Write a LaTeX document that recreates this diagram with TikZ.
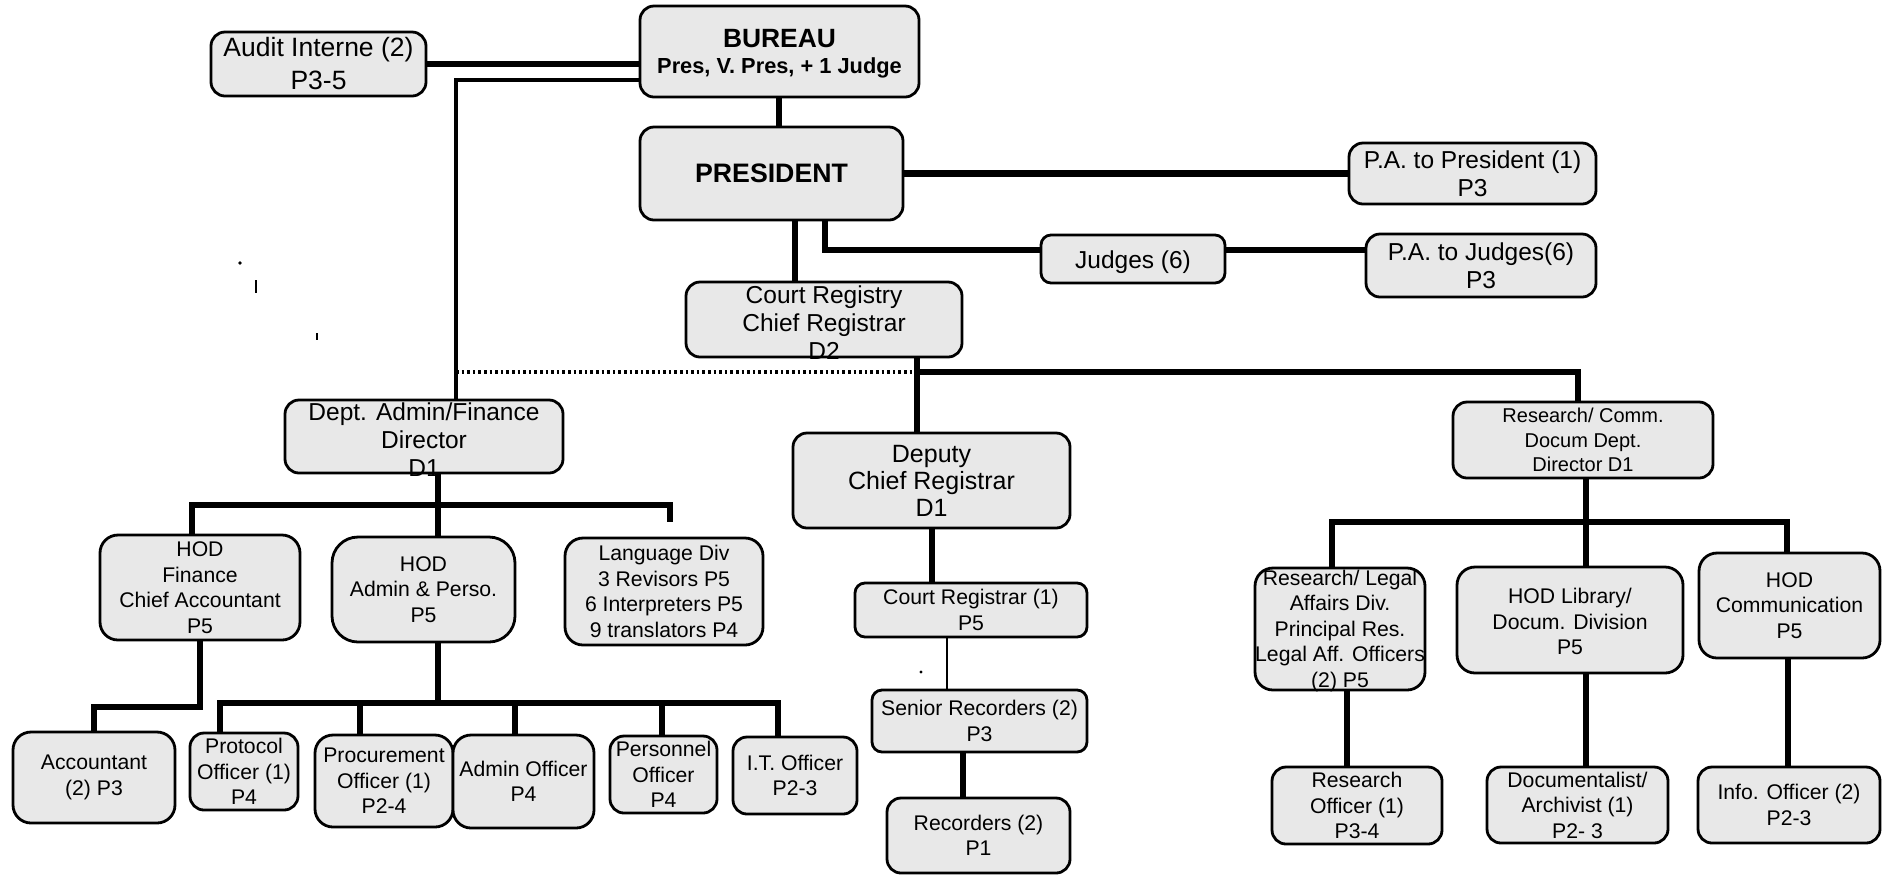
\documentclass[tikz,border=0pt]{standalone}
\usepackage{fontspec}
\setmainfont{Liberation Sans}
\tikzset{
  box/.style={draw, line width=1.4pt, fill=black!9, rounded corners=7pt, inner sep=0pt, outer sep=0pt},
  txt/.style={align=center, inner sep=0pt, font=\fontsize{10.6}{12.75}\selectfont},
  upf/.style={font=\fontsize{12.25}{14}\selectfont},
  deputyf/.style={font=\fontsize{12.5}{13.5}\selectfont},
  auditf/.style={font=\fontsize{13.25}{16.5}\selectfont},
  resf/.style={font=\fontsize{10}{12.25}\selectfont},
  presf/.style={font=\bfseries\fontsize{13.35}{16}\selectfont},
  burf/.style={font=\bfseries\fontsize{10.9}{13}\selectfont},
  thk/.style={line width=2.8pt},
  med/.style={line width=1.6pt},
  thn/.style={line width=1.2pt},
  dotl/.style={line width=2.4pt, dash pattern=on 1.3pt off 1.5pt},
}
% #1 text options, #2 box options, #3 name, #4-#7 corners (x1,y1,x2,y2), #8 text
\newcommand{\orgbox}[8][]{%
  \pgfmathsetmacro\obw{(#6-#4)*0.5}%
  \pgfmathsetmacro\obh{(#7-#5)*0.5}%
  \node[box,minimum width=\obw pt,minimum height=\obh pt,#2] (#3) at ({(#4+#6)/2},{(#5+#7)/2}) {};%
  \node[txt,#1] (#3-t) at (#3.center) {#8};%
}
\begin{document}
\begin{tikzpicture}[x=0.5pt,y=-0.5pt]
\useasboundingbox (0,0) rectangle (1893,875);

% ---- boxes ----
\orgbox[auditf]{}{audit}{211}{32}{426}{96}{Audit Interne (2)\\P3-5}
\orgbox[burf,yshift=-1.25pt]{}{bureau}{640}{6}{919}{97}{{\fontsize{13.2}{13}\selectfont BUREAU}\\Pres, V. Pres, + 1 Judge}
\orgbox[presf]{}{pres}{640}{127}{903}{220}{PRESIDENT}
\orgbox[upf]{}{pa1}{1349}{143}{1596}{204}{P.A. to President (1)\\P3}
\orgbox[upf,yshift=-1.5pt]{rounded corners=5pt}{judges}{1041}{235}{1225}{283}{Judges (6)}
\orgbox[upf]{}{pa2}{1366}{234}{1596}{297}{P.A. to Judges(6)\\P3}
\orgbox[upf,yshift=-1.5pt]{}{creg}{686}{282}{962}{357}{Court Registry\\Chief Registrar\\D2}
\orgbox[upf,yshift=-1.75pt]{}{dept}{285}{400}{563}{473}{Dept. Admin/Finance\\Director\\D1}
\orgbox[deputyf]{}{deputy}{793}{433}{1070}{528}{Deputy\\Chief Registrar\\D1}
\orgbox[resf]{}{rescomm}{1453}{402}{1713}{478}{Research/ Comm.\\Docum Dept.\\Director D1}
\orgbox{rounded corners=9pt}{hodfin}{100}{535}{300}{640}{HOD\\Finance\\Chief Accountant\\P5}
\orgbox{rounded corners=13pt}{hodadm}{332}{537}{515}{642}{HOD\\Admin \& Perso.\\P5}
\orgbox{rounded corners=9pt}{lang}{565}{538}{763}{645}{Language Div\\3 Revisors P5\\6 Interpreters P5\\9 translators P4}
\orgbox{rounded corners=5pt}{courtr}{855}{583}{1087}{637}{Court Registrar (1)\\P5}
\orgbox{rounded corners=5pt}{senior}{872}{690}{1087}{752}{Senior Recorders (2)\\P3}
\orgbox{}{recorders}{887}{798}{1070}{873}{Recorders (2)\\P1}
\orgbox[yshift=-0.8pt]{rounded corners=9pt}{reslegal}{1255}{568}{1425}{690}{Research/ Legal\\Affairs Div.\\Principal Res.\\Legal Aff. Officers\\(2) P5}
\orgbox[yshift=-0.8pt]{rounded corners=9pt}{hodlib}{1457}{567}{1683}{673}{HOD Library/\\Docum. Division\\P5}
\orgbox{rounded corners=9pt}{hodcomm}{1699}{553}{1880}{658}{HOD\\Communication\\P5}
\orgbox{rounded corners=9pt}{acct}{13}{732}{175}{823}{Accountant\\(2) P3}
\orgbox{}{protocol}{190}{733}{298}{810}{Protocol\\Officer (1)\\P4}
\orgbox{rounded corners=9pt}{procure}{315}{735}{453}{827}{Procurement\\Officer (1)\\P2-4}
\orgbox{rounded corners=9pt}{adminoff}{453}{735}{594}{828}{Admin Officer\\P4}
\orgbox{}{personnel}{610}{736}{717}{813}{Personnel\\Officer\\P4}
\orgbox{}{itoff}{733}{737}{857}{814}{I.T. Officer\\P2-3}
\orgbox{}{resoff}{1272}{767}{1442}{844}{Research\\Officer (1)\\P3-4}
\orgbox{}{docum}{1487}{767}{1668}{843}{Documentalist/\\Archivist (1)\\P2- 3}
\orgbox{}{info}{1698}{767}{1880}{843}{Info. Officer (2)\\P2-3}

% ---- junction coordinates ----
\coordinate (cb1) at (456,80);
\coordinate (cbp) at (779,110);
\coordinate (cpj) at (825,250);
\coordinate (cpc) at (795,250);
\coordinate (cdot) at (456,372);
\coordinate (ccr) at (917,372);
\coordinate (crc) at (1578,372);
\coordinate (cd) at (438,505);
\coordinate (cdl) at (192,505);
\coordinate (cdr) at (670,505);
\coordinate (cds) at (670,522);
\coordinate (cf) at (200,707);
\coordinate (ca) at (438,703);
\coordinate (cal) at (220,703);
\coordinate (cap) at (360,703);
\coordinate (cao) at (515,703);
\coordinate (cpe) at (662,703);
\coordinate (car) at (778,703);
\coordinate (cdc) at (932,550);
\coordinate (ccs) at (947,660);
\coordinate (csr) at (963,775);
\coordinate (cr) at (1586,522);
\coordinate (crl) at (1332,522);
\coordinate (crr) at (1787,522);
\coordinate (cro) at (1347,730);
\coordinate (cio) at (1788,730);

% ---- connectors ----
\draw[line width=3pt] (audit.east) -- (audit.east -| bureau.west);
\draw[med] (bureau.west |- cb1) -- (cb1) -- (cb1 |- dept.north);
\draw[line width=3pt] (bureau.south -| cbp) -- (pres.north -| cbp);
\draw[line width=3.2pt] (pres.east) -- (pres.east -| pa1.west);
\draw[thk] (pres.south -| cpj) -- (cpj) -- (cpj -| judges.west);
\draw[thk] (judges.east |- cpj) -- (cpj -| pa2.west);
\draw[line width=3pt] (pres.south -| cpc) -- (creg.north -| cpc);
\draw[line width=3pt] (creg.south -| ccr) -- (deputy.north -| ccr);
\draw[thk] (ccr) -- (crc) -- (crc |- rescomm.north);
\draw[dotl] (cdot) -- (ccr);

\draw[thk] (dept.south -| cd) -- (cd) -- (cd |- hodadm.north);
\draw[thk] (cdl |- hodfin.north) -- (cdl) -- (cdr) -- (cds);
\draw[thk] (hodfin.south -| cf) -- (cf) -- (cf -| acct.north) -- (acct.north);

\draw[thk] (hodadm.south -| ca) -- (ca);
\draw[thk] (cal |- protocol.north) -- (cal) -- (car) -- (car |- itoff.north);
\draw[thk] (cap) -- (cap |- procure.north);
\draw[thk] (cao) -- (cao |- adminoff.north);
\draw[thk] (cpe) -- (cpe |- personnel.north);

\draw[line width=3pt] (deputy.south -| cdc) -- (courtr.north -| cdc);
\draw[thn] (courtr.south -| ccs) -- (senior.north -| ccs);
\draw[line width=3pt] (senior.south -| csr) -- (recorders.north -| csr);

\draw[thk] (rescomm.south -| cr) -- (cr) -- (cr |- hodlib.north);
\draw[thk] (crl |- reslegal.north) -- (crl) -- (crr) -- (crr |- hodcomm.north);
\draw[thk] (reslegal.south -| cro) -- (resoff.north -| cro);
\draw[thk] (hodlib.south -| cr) -- (docum.north -| cr);
\draw[thk] (hodcomm.south -| cio) -- (info.north -| cio);

% ---- small stray marks of the scan ----
\fill (240,263) circle (0.9pt);
\draw[line width=1.2pt] (256,280) -- (256,293);
\draw[line width=1.2pt] (317,333) -- (317,340);
\fill (921,672) circle (0.8pt);
\end{tikzpicture}
\end{document}
